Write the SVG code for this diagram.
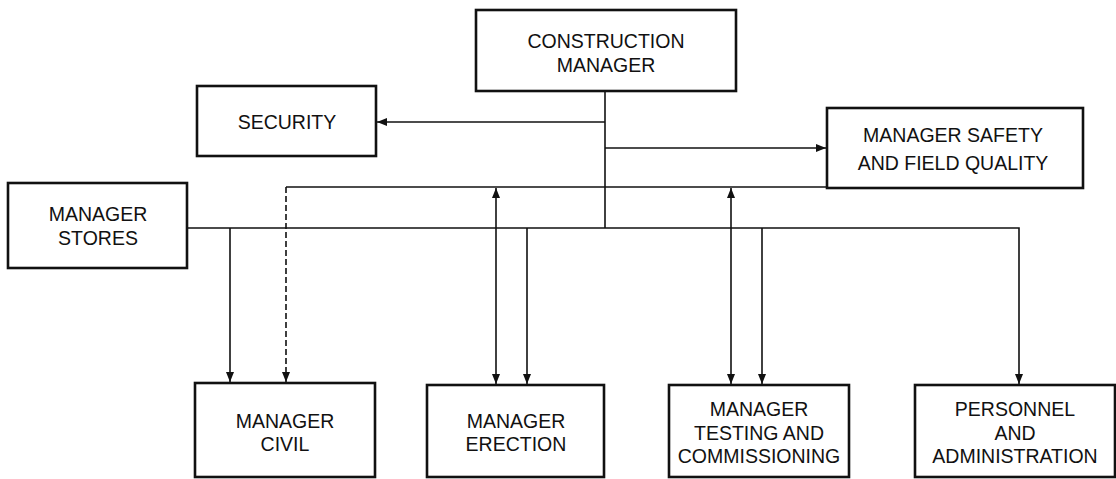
<svg xmlns="http://www.w3.org/2000/svg" width="1116" height="479" viewBox="0 0 1116 479">
<style>
.box{fill:#fff;stroke:#111;stroke-width:2.6}
.t{font-family:"Liberation Sans",Arial,sans-serif;font-size:19.5px;fill:#111;text-anchor:middle}
.c{fill:none;stroke:#111;stroke-width:1.6}
.d{stroke-dasharray:6,3}
</style>
<defs>
<marker id="ah" viewBox="0 0 10 8" refX="10" refY="4" markerWidth="10" markerHeight="8" markerUnits="userSpaceOnUse" orient="auto-start-reverse">
<path d="M0,0 L10,4 L0,8 Z" fill="#111"/>
</marker>
</defs>
<rect width="1116" height="479" fill="#fff"/>
<g id="connectors">
<path class="c" d="M605,91 V228"/>
<path class="c" d="M605,122 H377" marker-end="url(#ah)"/>
<path class="c" d="M605,148 H826" marker-end="url(#ah)"/>
<path class="c" d="M286,187 H827"/>
<path class="c d" d="M286,187 V382" marker-end="url(#ah)"/>
<path class="c" d="M187,228 H1019 V384" marker-end="url(#ah)"/>
<path class="c" d="M230,228 V382" marker-end="url(#ah)"/>
<path class="c" d="M496,188 V384" marker-start="url(#ah)" marker-end="url(#ah)"/>
<path class="c" d="M527,228 V384" marker-end="url(#ah)"/>
<path class="c" d="M731,188 V384" marker-start="url(#ah)" marker-end="url(#ah)"/>
<path class="c" d="M762,228 V384" marker-end="url(#ah)"/>
</g>
<g id="construction-manager">
<rect class="box" x="476" y="10" width="260" height="81"/>
<text class="t" x="606" y="48">CONSTRUCTION</text>
<text class="t" x="606" y="72">MANAGER</text>
</g>
<g id="security">
<rect class="box" x="197" y="86" width="179" height="70"/>
<text class="t" x="287" y="129">SECURITY</text>
</g>
<g id="safety">
<rect class="box" x="827" y="108" width="256" height="80"/>
<text class="t" x="953" y="142">MANAGER SAFETY</text>
<text class="t" x="953" y="170">AND FIELD QUALITY</text>
</g>
<g id="stores">
<rect class="box" x="8" y="183" width="179" height="85"/>
<text class="t" x="98" y="221">MANAGER</text>
<text class="t" x="98" y="245">STORES</text>
</g>
<g id="civil">
<rect class="box" x="195" y="383" width="180" height="94"/>
<text class="t" x="285" y="428">MANAGER</text>
<text class="t" x="285" y="451">CIVIL</text>
</g>
<g id="erection">
<rect class="box" x="427" y="385" width="177" height="92"/>
<text class="t" x="516" y="428">MANAGER</text>
<text class="t" x="516" y="451">ERECTION</text>
</g>
<g id="testing">
<rect class="box" x="669" y="385" width="180" height="92"/>
<text class="t" x="759" y="416">MANAGER</text>
<text class="t" x="759" y="440">TESTING AND</text>
<text class="t" x="759" y="463">COMMISSIONING</text>
</g>
<g id="personnel">
<rect class="box" x="915" y="385" width="200" height="92"/>
<text class="t" x="1015" y="416">PERSONNEL</text>
<text class="t" x="1015" y="440">AND</text>
<text class="t" x="1015" y="463">ADMINISTRATION</text>
</g>
</svg>
